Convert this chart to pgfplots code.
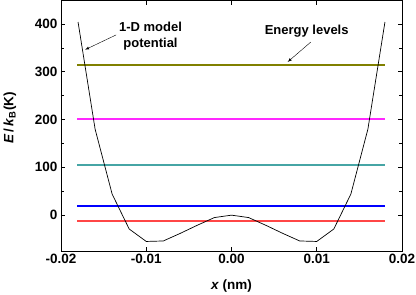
\documentclass[border=0pt]{standalone}
\usepackage{pgfplots}
\pgfplotsset{compat=1.18}
\usepackage{fontspec}
\setmainfont{Liberation Sans}
\definecolor{lvA}{RGB}{128,128,0}
\definecolor{lvB}{RGB}{255,40,255}
\definecolor{lvC}{RGB}{70,165,165}
\definecolor{lvD}{RGB}{0,0,255}
\definecolor{lvE}{RGB}{255,70,70}
\begin{document}
\begin{tikzpicture}
\begin{axis}[name=ax,
  scale only axis, width=341pt, height=251pt,
  xmin=-0.02, xmax=0.02, ymin=-75, ymax=450,
  xtick={-0.02,-0.01,0,0.01,0.02},
  xticklabels={-0.02,-0.01,0.00,0.01,0.02},
  scaled x ticks=false,
  ytick={0,100,200,300,400},
  minor y tick num=1,
  tick align=inside,
  major tick length=4.5pt, minor tick length=3pt,
  tick style={black, line width=0.6pt},
  axis line style={line width=0.8pt},
  /pgf/number format/assume math mode=true,
  ticklabel style={font=\fontsize{13.5}{15}\selectfont\bfseries},
  label style={font=\fontsize{13.5}{15}\selectfont\bfseries},
  xlabel={\textit{x} (nm)},
  ylabel={\textit{E}\,/\,\textit{k}\textsubscript{B}(K)},
  xlabel style={at={(axis description cs:0.5,-0.139)}, anchor=center},
  ylabel style={at={(axis description cs:-0.15,0.53)}, anchor=center},
  clip=false,
]
\addplot[draw=lvA, line width=1.3pt] coordinates {(-0.0181,314) (0.018,314)};
\addplot[draw=lvB, line width=1.3pt] coordinates {(-0.0181,201) (0.018,201)};
\addplot[draw=lvC, line width=1.3pt] coordinates {(-0.0181,105) (0.018,105)};
\addplot[draw=lvD, line width=1.3pt] coordinates {(-0.0181,19) (0.018,19)};
\addplot[draw=lvE, line width=1.3pt] coordinates {(-0.0181,-12.5) (0.018,-12.5)};
\addplot[black, line width=0.7pt] coordinates {
(-0.018,404) (-0.016,180) (-0.014,44) (-0.012,-29) (-0.010,-55)
(-0.008,-54) (-0.006,-38) (-0.004,-21) (-0.002,-5) (0,0)
(0.002,-5) (0.004,-21) (0.006,-38) (0.008,-54) (0.010,-55)
(0.012,-29) (0.014,44) (0.016,180) (0.018,404)};
\node[align=center, font=\fontsize{13}{16}\selectfont\bfseries] at (axis cs:-0.0095,374) {1-D model\\potential};
\draw[-latex, line width=0.4pt] (axis cs:-0.01353,377) -- (axis cs:-0.01718,346);
\node[font=\fontsize{13}{16}\selectfont\bfseries] at (axis cs:0.00882,385) {Energy levels};
\draw[-latex, line width=0.4pt] (axis cs:0.0093,362) -- (axis cs:0.00659,320.5);
\end{axis}
\pgfresetboundingbox
\path[use as bounding box] ([shift={(-61pt,-43pt)}]ax.south west) rectangle ([shift={(14pt,0pt)}]ax.north east);
\end{tikzpicture}
\end{document}
